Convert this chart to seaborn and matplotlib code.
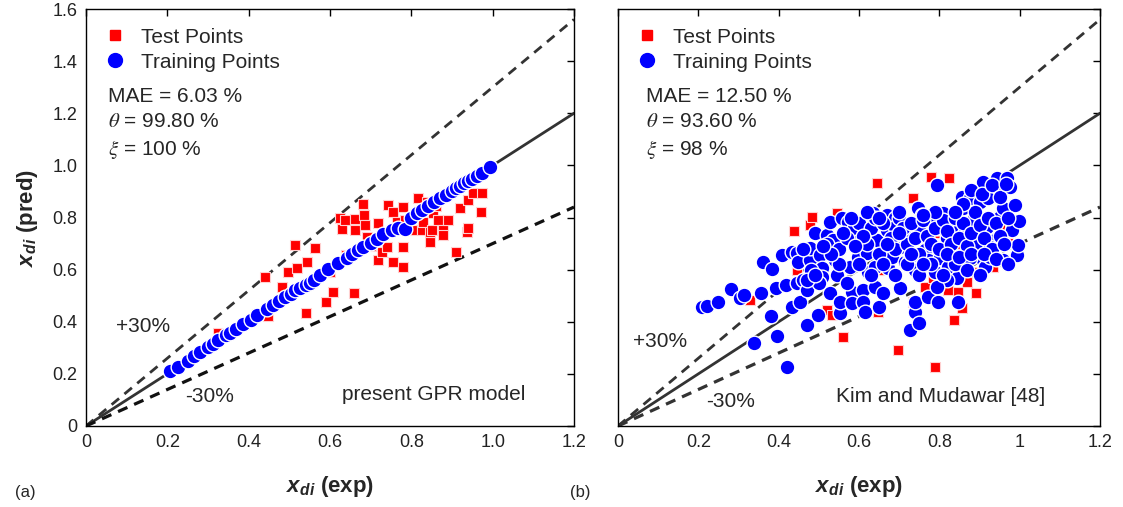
import numpy as np
import pandas as pd
import matplotlib
matplotlib.use("Agg")
import matplotlib.pyplot as plt
import seaborn as sns
from matplotlib.lines import Line2D

# ---------------- data ----------------
# (a) present GPR model
train_a_x = [0.206, 0.225, 0.250, 0.265, 0.280, 0.300, 0.312, 0.325, 0.345, 0.354, 0.370,
             0.385, 0.405, 0.420, 0.445, 0.460, 0.475, 0.490, 0.505, 0.515, 0.525, 0.540,
             0.550, 0.560, 0.575, 0.595, 0.619, 0.641, 0.655, 0.670, 0.681, 0.700, 0.715,
             0.730, 0.752, 0.766, 0.784, 0.800, 0.813, 0.826, 0.840, 0.855, 0.870, 0.885,
             0.899, 0.910, 0.919, 0.930, 0.939, 0.950, 0.961, 0.975, 0.993]
train_a_y = [0.212, 0.228, 0.250, 0.268, 0.284, 0.302, 0.315, 0.330, 0.349, 0.357, 0.372,
             0.390, 0.408, 0.424, 0.449, 0.463, 0.480, 0.494, 0.508, 0.520, 0.528, 0.542,
             0.549, 0.562, 0.578, 0.602, 0.625, 0.645, 0.660, 0.675, 0.687, 0.703, 0.718,
             0.735, 0.752, 0.760, 0.756, 0.800, 0.817, 0.830, 0.844, 0.858, 0.875, 0.888,
             0.902, 0.912, 0.921, 0.933, 0.940, 0.948, 0.959, 0.972, 0.994]

test_a_x = [0.324, 0.440, 0.447, 0.482, 0.496, 0.513, 0.518, 0.541, 0.543, 0.563, 0.590,
            0.607, 0.624, 0.629, 0.636, 0.658, 0.661, 0.661, 0.681, 0.683, 0.686, 0.690,
            0.717, 0.715, 0.717, 0.727, 0.740, 0.742, 0.754, 0.754, 0.764, 0.779, 0.779,
            0.779, 0.784, 0.801, 0.808, 0.816, 0.826, 0.828, 0.838, 0.845, 0.845, 0.850,
            0.853, 0.865, 0.877, 0.877, 0.889, 0.911, 0.919, 0.936, 0.939, 0.939, 0.951,
            0.971, 0.973, 0.600, 0.700, 0.860, 0.420, 0.640]
test_a_y = [0.357, 0.572, 0.422, 0.533, 0.591, 0.695, 0.606, 0.434, 0.629, 0.683, 0.476,
            0.514, 0.798, 0.756, 0.790, 0.510, 0.794, 0.752, 0.852, 0.810, 0.771, 0.725,
            0.779, 0.714, 0.637, 0.668, 0.687, 0.848, 0.821, 0.629, 0.783, 0.840, 0.687,
            0.610, 0.790, 0.752, 0.810, 0.875, 0.752, 0.783, 0.860, 0.706, 0.744, 0.752,
            0.817, 0.790, 0.752, 0.733, 0.790, 0.668, 0.837, 0.744, 0.867, 0.760, 0.894,
            0.821, 0.894, 0.590, 0.690, 0.845, 0.430, 0.655]

# (b) Kim and Mudawar [48]
train_b_x = [0.209, 0.222, 0.249, 0.281, 0.304, 0.314, 0.339, 0.361, 0.356, 0.383, 0.381,
             0.396, 0.408, 0.393, 0.421, 0.418, 0.433, 0.433, 0.446, 0.448, 0.446, 0.453,
             0.470, 0.461, 0.470, 0.478, 0.490, 0.478, 0.503, 0.508, 0.508, 0.498, 0.520,
             0.528, 0.535, 0.540, 0.545, 0.528, 0.553, 0.553, 0.558, 0.573, 0.578, 0.585,
             0.583, 0.583, 0.595, 0.597, 0.610, 0.610, 0.615, 0.620, 0.620, 0.622, 0.635,
             0.645, 0.640, 0.640, 0.650, 0.660, 0.670, 0.670, 0.672, 0.682, 0.685, 0.690,
             0.690, 0.702, 0.710, 0.714, 0.714, 0.727, 0.727, 0.739, 0.739, 0.749, 0.739,
             0.747, 0.752, 0.757, 0.764, 0.772, 0.772, 0.784, 0.789, 0.794, 0.797, 0.797,
             0.802, 0.809, 0.819, 0.819, 0.822, 0.834, 0.844, 0.846, 0.851, 0.856, 0.859,
             0.864, 0.869, 0.876, 0.884, 0.896, 0.901, 0.901, 0.909, 0.914, 0.919, 0.921,
             0.926, 0.939, 0.944, 0.951, 0.956, 0.958, 0.968, 0.976, 0.981, 0.988, 0.993,
             0.996, 0.998, 0.958, 0.926, 0.876, 0.819, 0.794,
             0.520, 0.550, 0.570, 0.600, 0.620, 0.630, 0.650, 0.660, 0.680, 0.690, 0.700,
             0.710, 0.720, 0.730, 0.740, 0.750, 0.760, 0.770, 0.780, 0.790, 0.800, 0.810,
             0.820, 0.830, 0.840, 0.850, 0.860, 0.870, 0.880, 0.890, 0.900, 0.910, 0.920,
             0.930, 0.940, 0.950, 0.960, 0.970, 0.600, 0.630, 0.660, 0.690, 0.720, 0.750,
             0.780, 0.810, 0.840, 0.870, 0.900, 0.550, 0.570, 0.530, 0.480, 0.500, 0.460,
             0.580, 0.610, 0.640, 0.670, 0.700, 0.730, 0.760, 0.790, 0.820, 0.850, 0.880,
             0.910, 0.940, 0.970, 0.470, 0.490, 0.510, 0.560, 0.590,
             0.880, 0.905, 0.930, 0.950, 0.965, 0.860, 0.840, 0.620, 0.650, 0.700, 0.760]
train_b_y = [0.457, 0.460, 0.476, 0.526, 0.491, 0.503, 0.318, 0.629, 0.510, 0.602, 0.422,
             0.345, 0.656, 0.530, 0.226, 0.541, 0.668, 0.457, 0.664, 0.629, 0.549, 0.476,
             0.388, 0.560, 0.522, 0.637, 0.741, 0.683, 0.656, 0.606, 0.572, 0.426, 0.733,
             0.783, 0.714, 0.637, 0.579, 0.510, 0.434, 0.476, 0.798, 0.783, 0.610, 0.752,
             0.514, 0.472, 0.706, 0.649, 0.522, 0.476, 0.437, 0.741, 0.664, 0.591, 0.817,
             0.714, 0.610, 0.533, 0.457, 0.510, 0.810, 0.752, 0.606, 0.649, 0.714, 0.798,
             0.764, 0.529, 0.687, 0.629, 0.733, 0.649, 0.368, 0.437, 0.476, 0.395, 0.599,
             0.837, 0.744, 0.810, 0.675, 0.495, 0.637, 0.802, 0.591, 0.925, 0.760, 0.476,
             0.645, 0.817, 0.721, 0.675, 0.610, 0.783, 0.568, 0.476, 0.764, 0.879, 0.837,
             0.744, 0.637, 0.875, 0.790, 0.702, 0.860, 0.649, 0.936, 0.610, 0.764, 0.875,
             0.649, 0.714, 0.952, 0.802, 0.906, 0.837, 0.952, 0.917, 0.752, 0.848, 0.656,
             0.694, 0.787, 0.637, 0.687, 0.645, 0.560, 0.533,
             0.700, 0.680, 0.720, 0.780, 0.700, 0.760, 0.660, 0.780, 0.720, 0.680, 0.800,
             0.760, 0.700, 0.780, 0.720, 0.660, 0.790, 0.730, 0.700, 0.760, 0.680, 0.790,
             0.750, 0.700, 0.800, 0.720, 0.780, 0.690, 0.740, 0.820, 0.770, 0.720, 0.800,
             0.680, 0.780, 0.730, 0.700, 0.800, 0.620, 0.580, 0.620, 0.580, 0.620, 0.580,
             0.620, 0.580, 0.620, 0.600, 0.580, 0.620, 0.550, 0.660, 0.600, 0.550, 0.680,
             0.800, 0.730, 0.800, 0.700, 0.740, 0.660, 0.620, 0.820, 0.660, 0.650, 0.660,
             0.660, 0.640, 0.620, 0.560, 0.580, 0.690, 0.740, 0.690,
             0.905, 0.890, 0.925, 0.880, 0.930, 0.850, 0.820, 0.820, 0.800, 0.820, 0.810]

test_b_x = [0.329, 0.438, 0.446, 0.478, 0.483, 0.520, 0.533, 0.545, 0.560, 0.585, 0.645,
            0.647, 0.697, 0.734, 0.734, 0.764, 0.779, 0.784, 0.789, 0.822, 0.824, 0.836,
            0.846, 0.856, 0.869, 0.891, 0.891, 0.934, 0.971, 0.976, 0.600, 0.700, 0.800,
            0.900, 0.650, 0.750, 0.850, 0.950]
test_b_y = [0.484, 0.748, 0.599, 0.771, 0.802, 0.445, 0.426, 0.817, 0.342, 0.780, 0.932,
            0.437, 0.292, 0.875, 0.476, 0.533, 0.956, 0.568, 0.226, 0.522, 0.952, 0.407,
            0.514, 0.453, 0.553, 0.510, 0.591, 0.610, 0.702, 0.744, 0.660, 0.700, 0.740,
            0.780, 0.600, 0.650, 0.700, 0.760]

ref_x = [0.0, 1.2]
ref_upper = [0.0, 1.56]
ref_lower = [0.0, 0.84]

panels = [
    dict(tx=test_a_x, ty=test_a_y, rx=train_a_x, ry=train_a_y,
         stats="MAE = 6.03 %\n$\\theta$ = 99.80 %\n$\\xi$ = 100 %",
         name="present GPR model",
         xticklabels=["0", "0.2", "0.4", "0.6", "0.8", "1.0", "1.2"],
         yticklabels=["0", "0.2", "0.4", "0.6", "0.8", "1.0", "1.2", "1.4", "1.6"]),
    dict(tx=test_b_x, ty=test_b_y, rx=train_b_x, ry=train_b_y,
         stats="MAE = 12.50 %\n$\\theta$ = 93.60 %\n$\\xi$ = 98 %",
         name="Kim and Mudawar [48]",
         xticklabels=["0", "0.2", "0.4", "0.6", "0.8", "1", "1.2"],
         yticklabels=None),
]

# ---------------- style ----------------
sns.set_theme(style="white")
plt.rcParams["font.family"] = ["Liberation Sans", "DejaVu Sans"]
plt.rcParams["mathtext.fontset"] = "custom"
plt.rcParams["mathtext.rm"] = "Liberation Sans"
plt.rcParams["mathtext.it"] = "Liberation Sans:italic"
plt.rcParams["mathtext.bf"] = "Liberation Sans:bold"
plt.rcParams["mathtext.bfit"] = "Liberation Sans:italic:bold"
plt.rcParams["xtick.direction"] = "in"
plt.rcParams["ytick.direction"] = "in"

fig = plt.figure(figsize=(11.23, 5.07), dpi=100)
W, H = 1123, 507
axes = [fig.add_axes([86 / W, 1 - 426 / H, 488 / W, 417 / H]),
        fig.add_axes([618 / W, 1 - 426 / H, 482 / W, 417 / H])]

for i, (ax, p) in enumerate(zip(axes, panels)):
    ax.plot(ref_x, ref_x, color="#333333", lw=2.0, zorder=1)
    ax.plot(ref_x, ref_upper, color="#333333", lw=2.0, ls=(0, (3.5, 2.5)), zorder=1)
    ax.plot(ref_x, ref_lower, color="#111111" if i == 0 else "#333333", lw=2.3,
            ls=(0, (3.2, 2.3)), zorder=1)

    sns.scatterplot(x=p["tx"], y=p["ty"], ax=ax, marker="s", color="#ff0000", s=58,
                    edgecolor="#ffd0d0", linewidth=0.8, zorder=2, legend=False)
    sns.scatterplot(x=p["rx"], y=p["ry"], ax=ax, marker="o", color="#0000ff", s=112,
                    edgecolor="white", linewidth=1.0, zorder=3, legend=False)

    ax.set_xlim(0, 1.2)
    ax.set_ylim(0, 1.6)
    ax.set_xticks(np.arange(0, 1.21, 0.2))
    ax.set_xticklabels(p["xticklabels"])
    ax.set_yticks(np.arange(0, 1.61, 0.2))
    if p["yticklabels"] is not None:
        ax.set_yticklabels(p["yticklabels"])
    else:
        ax.set_yticklabels([])
    ax.tick_params(axis="both", which="both", direction="in", top=True, right=True,
                   length=5, width=1, labelsize=13, colors="black", pad=6)
    ax.tick_params(axis="x", labelcolor="#222222")
    ax.tick_params(axis="y", labelcolor="#222222")
    for sp in ax.spines.values():
        sp.set_color("black")
        sp.set_linewidth(1.0)

    ax.set_xlabel(r"$\mathbfit{x}_{\mathbfit{di}}$ (exp)", fontsize=16, fontweight="bold",
                  labelpad=16)
    if i == 0:
        ax.set_ylabel(r"$\mathbfit{x}_{\mathbfit{di}}$ (pred)", fontsize=16,
                      fontweight="bold", labelpad=9)

    handles = [Line2D([], [], ls="none", marker="s", markersize=7, color="#ff0000",
                      markeredgecolor="#ff0000"),
               Line2D([], [], ls="none", marker="o", markersize=10, color="#0000ff",
                      markeredgecolor="#0000ff")]
    ax.legend(handles, ["Test Points", "Training Points"], loc="upper left",
              bbox_to_anchor=(0.0, 1.0), frameon=False, fontsize=15,
              handlelength=1.0, handletextpad=0.75, labelspacing=0.28,
              borderaxespad=0.4, borderpad=0.5)

    ax.text(0.045 if i == 0 else 0.058, 0.812, p["stats"], transform=ax.transAxes,
            fontsize=15, va="top", ha="left", linespacing=1.38, math_fontfamily="stix")

    if i == 0:
        ax.text(0.074, 0.38, "+30%", fontsize=15, va="center", ha="left")
        ax.text(0.243, 0.115, "-30%", fontsize=15, va="center", ha="left")
        ax.text(1.08, 0.12, p["name"], fontsize=15, va="center", ha="right")
    else:
        ax.text(0.037, 0.326, "+30%", fontsize=15, va="center", ha="left")
        ax.text(0.22, 0.095, "-30%", fontsize=15, va="center", ha="left")
        ax.text(1.063, 0.115, p["name"], fontsize=15, va="center", ha="right")

fig.text(15 / W, 1 - 492 / H, "(a)", fontsize=12, va="center", ha="left")
fig.text(570 / W, 1 - 492 / H, "(b)", fontsize=12, va="center", ha="left")

fig.savefig("out.png", dpi=100)
